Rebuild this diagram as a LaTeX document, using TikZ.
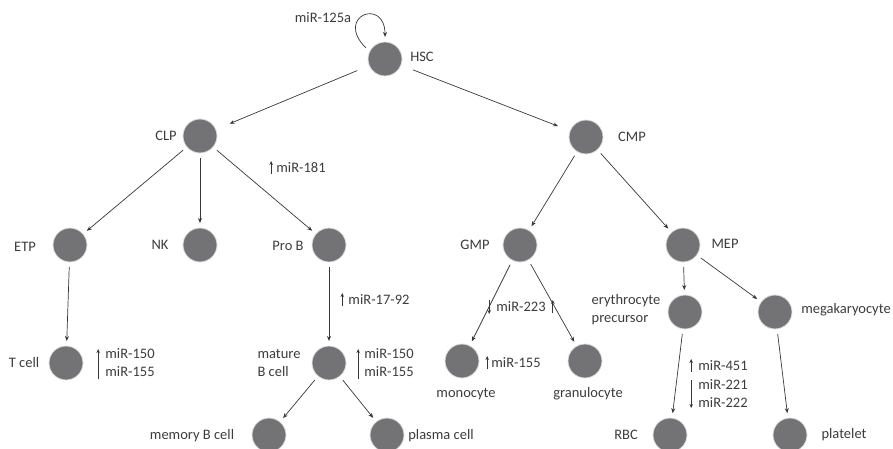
\documentclass[tikz,border=0pt]{standalone}
\usepackage{fontspec}
\setmainfont{Carlito}
\usepackage{xcolor}
\usepackage{tikz}
\usetikzlibrary{arrows.meta, positioning}
\definecolor{cellgray}{RGB}{115,115,117}
\definecolor{linegray}{RGB}{55,55,55}
\definecolor{txtgray}{RGB}{60,60,60}
\tikzset{
  cell/.style={circle, minimum size=34pt, inner sep=0pt, fill=cellgray, draw=gray!25,
    line width=0.8pt, outer sep=5pt},
  txt/.style={font=\fontsize{14.5}{18}\selectfont, text=txtgray, inner sep=0pt, align=left},
  arrow/.style={-{Stealth[length=5pt,width=4pt]}, line width=0.7pt, draw=linegray},
  mirarrow/.style={-{Stealth[length=4pt,width=3.5pt]}, line width=0.9pt, draw=linegray}
}

\begin{document}
\begin{tikzpicture}[x=1pt, y=-1pt]
  \useasboundingbox (0,0) rectangle (893,449);
  % cells
  \node[cell] (hsc)   at (385,59)  {};
  \node[cell] (clp)   at (200,136) {};
  \node[cell] (cmp)   at (586,137) {};
  \node[cell] (etp)   at (70,245)  {};
  \node[cell] (nk)    at (200,245) {};
  \node[cell] (prob)  at (329,245) {};
  \node[cell] (gmp)   at (520,245) {};
  \node[cell] (mep)   at (683,245) {};
  \node[cell] (ery)   at (685,312) {};
  \node[cell] (mega)  at (775,312) {};
  \node[cell] (tcell) at (66,363)  {};
  \node[cell] (matb)  at (329,363) {};
  \node[cell] (mono)  at (462,361) {};
  \node[cell] (gran)  at (585,361) {};
  \node[cell] (memb)  at (269,435) {};
  \node[cell] (plas)  at (387,435) {};
  \node[cell] (rbc)   at (670,435) {};
  \node[cell] (plt)   at (790,435) {};
  % cell names
  \node[txt] (hscL)   at (422,57)  {HSC};
  \node[txt] (clpL)   at (166,136) {CLP};
  \node[txt] (cmpL)   at (632,137) {CMP};
  \node[txt] (etpL)   at (25,247)  {ETP};
  \node[txt] (nkL)    at (160,245) {NK};
  \node[txt] (probL)  at (288,246) {Pro B};
  \node[txt] (gmpL)   at (475,245) {GMP};
  \node[txt] (mepL)   at (725,244) {MEP};
  \node[txt] (eryL)   at (626,310) {erythrocyte\\precursor};
  \node[txt] (megaL)  at (846,310) {megakaryocyte};
  \node[txt] (tcellL) at (24,363)  {T cell};
  \node[txt] (matbL)  at (279,363) {mature\\B cell};
  \node[txt] (monoL)  at (466,394) {monocyte};
  \node[txt] (granL)  at (588,394) {granulocyte};
  \node[txt] (membL)  at (192,436) {memory B cell};
  \node[txt] (plasL)  at (441,436) {plasma cell};
  \node[txt] (rbcL)   at (626,435) {RBC};
  \node[txt] (pltL)   at (844,435) {platelet};
  % microRNAs
  \node[txt] (m125)   at (323,18)  {miR-125a};
  \node[txt] (m181)   at (301,168) {miR-181};
  \node[txt] (m1792)  at (379,300) {miR-17-92};
  \node[txt] (m223)   at (521,307) {miR-223};
  \node[txt] (mT)     at (130,363) {miR-150\\miR-155};
  \node[txt] (mB)     at (389,363) {miR-150\\miR-155};
  \node[txt] (m155)   at (516,363) {miR-155};
  \node[txt] (m451)   at (723,366) {miR-451};
  \node[txt] (m221)   at (723,394) {miR-221\\miR-222};
  % lineage arrows
  \draw[arrow] (hsc.150) .. controls +(-32,-32) and +(0,-40) .. (hsc.north);
  \draw[arrow, shorten <=8pt, shorten >=10pt] (hsc) -- (clp);
  \draw[arrow, shorten <=8pt, shorten >=8pt] (hsc) -- (cmp);
  \draw[arrow] (clp) -- (etp);
  \draw[arrow] (clp) -- (nk);
  \draw[arrow] (clp) -- (prob);
  \draw[arrow] (cmp) -- (gmp);
  \draw[arrow] (cmp) -- (mep);
  \draw[arrow] (etp) -- (tcell);
  \draw[arrow] (prob) -- (matb);
  \draw[arrow] (gmp) -- (mono);
  \draw[arrow] (gmp) -- (gran);
  \draw[arrow] (mep) -- (ery);
  \draw[arrow] (mep) -- (mega);
  \draw[arrow] (matb) -- (memb);
  \draw[arrow] (matb) -- (plas);
  \draw[arrow] (ery) -- (rbc);
  \draw[arrow] (mega) -- (plt);
  % up / down marks
  \draw[mirarrow] ([xshift=-5pt,yshift=-6pt]m181.west) -- ([xshift=-5pt,yshift=7pt]m181.west);
  \draw[mirarrow] ([xshift=-6pt,yshift=-6pt]m1792.west) -- ([xshift=-6pt,yshift=7pt]m1792.west);
  \draw[mirarrow] ([xshift=-7pt,yshift=7pt]m223.west) -- ([xshift=-7pt,yshift=-7pt]m223.west);
  \draw[mirarrow] ([xshift=7pt,yshift=-6pt]m223.east) -- ([xshift=7pt,yshift=7pt]m223.east);
  \draw[mirarrow] ([xshift=-7pt,yshift=-16pt]mT.west) -- ([xshift=-7pt,yshift=14pt]mT.west);
  \draw[mirarrow] ([xshift=-6pt,yshift=-16pt]mB.west) -- ([xshift=-6pt,yshift=14pt]mB.west);
  \draw[mirarrow] ([xshift=-4pt,yshift=-6pt]m155.west) -- ([xshift=-4pt,yshift=7pt]m155.west);
  \draw[mirarrow] ([xshift=-7pt,yshift=-6pt]m451.west) -- ([xshift=-7pt,yshift=7pt]m451.west);
  \draw[mirarrow] ([xshift=-7pt,yshift=14pt]m221.west) -- ([xshift=-7pt,yshift=-14pt]m221.west);
\end{tikzpicture}
\end{document}
